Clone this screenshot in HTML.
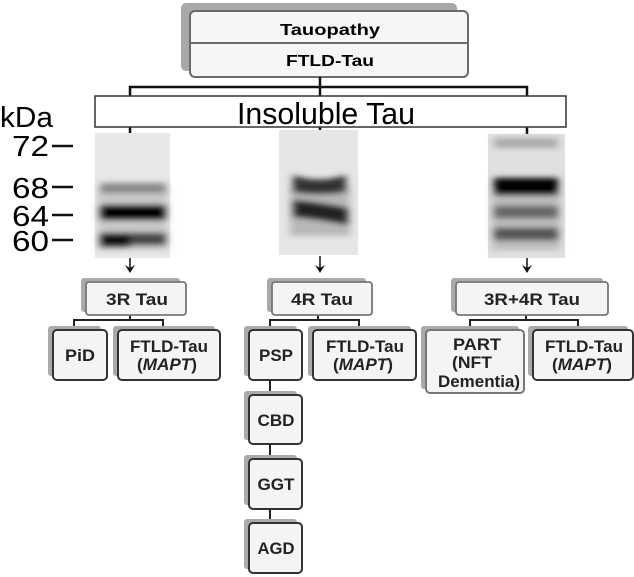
<!DOCTYPE html>
<html><head><meta charset="utf-8"><style>
html,body{margin:0;padding:0;background:#fff;}
svg{display:block;}
text{font-family:"Liberation Sans",Arial,sans-serif;}
</style></head><body>
<svg width="634" height="577" viewBox="0 0 634 577" xmlns="http://www.w3.org/2000/svg">
<defs>
<filter id="b" x="-30%" y="-100%" width="160%" height="300%"><feGaussianBlur stdDeviation="4 3"/></filter>
</defs>
<rect x="181" y="3" width="276" height="68" rx="5" fill="#a8a8a8"/>
<rect x="190" y="11" width="278" height="66" rx="5" fill="#f6f6f6" stroke="#6a6a6a" stroke-width="2"/>
<line x1="190" y1="43" x2="468" y2="43" stroke="#6a6a6a" stroke-width="2"/>
<text x="330" y="35" font-size="16" font-weight="bold" text-anchor="middle" textLength="100" lengthAdjust="spacingAndGlyphs">Tauopathy</text>
<text x="330" y="66" font-size="16" font-weight="bold" text-anchor="middle" textLength="88" lengthAdjust="spacingAndGlyphs">FTLD-Tau</text>
<g stroke="#111" stroke-width="2.5" fill="none">
<line x1="320" y1="77" x2="320" y2="96"/>
<polyline points="130,96 130,87 527,87 527,96"/>
<line x1="130" y1="127" x2="130" y2="134"/>
<line x1="320" y1="127" x2="320" y2="131"/>
<line x1="527" y1="127" x2="527" y2="134"/>
</g>
<rect x="95" y="96" width="471" height="31" fill="#fff" stroke="#333" stroke-width="1.5"/>
<text x="326" y="124" font-size="31" text-anchor="middle" textLength="178" lengthAdjust="spacingAndGlyphs">Insoluble Tau</text>
<text x="0" y="127" font-size="29" textLength="53" lengthAdjust="spacingAndGlyphs">kDa</text>
<g font-size="29">
<text x="12" y="156" textLength="37" lengthAdjust="spacingAndGlyphs">72</text>
<text x="12" y="198" textLength="37" lengthAdjust="spacingAndGlyphs">68</text>
<text x="12" y="226" textLength="37" lengthAdjust="spacingAndGlyphs">64</text>
<text x="12" y="251" textLength="37" lengthAdjust="spacingAndGlyphs">60</text>
</g>
<g stroke="#111" stroke-width="2.5">
<line x1="52" y1="146" x2="73" y2="146"/><line x1="52" y1="187" x2="73" y2="187"/>
<line x1="52" y1="215" x2="73" y2="215"/><line x1="52" y1="240" x2="73" y2="240"/>
</g>
<rect x="95" y="133" width="75" height="125" fill="#e8e8e8"/>
<g filter="url(#b)">
<rect x="98" y="190" width="70" height="60" fill="#aaa" opacity=".5"/>
<rect x="100" y="183" width="66" height="10" fill="#888"/>
<rect x="100" y="205" width="66" height="15" fill="#000"/>
<rect x="100" y="233" width="66" height="12" fill="#444"/>
<rect x="100" y="234" width="30" height="13" fill="#111"/>
</g>
<rect x="279" y="130" width="79" height="125" fill="#e6e6e6"/>
<g filter="url(#b)">
<rect x="290" y="186" width="60" height="50" fill="#999" opacity=".6"/>
<path d="M293 175 Q318 184 346 175 L346 192 Q318 196 293 192Z" fill="#333"/>
<path d="M293 200 Q318 202 348 208 L348 225 Q318 219 293 217Z" fill="#222"/>
</g>
<rect x="488" y="134" width="77" height="124" fill="#e0e0e0"/>
<g filter="url(#b)">
<rect x="492" y="190" width="68" height="60" fill="#999" opacity=".5"/>
<rect x="494" y="138" width="64" height="10" fill="#aaa"/>
<rect x="494" y="178" width="64" height="17" fill="#000"/>
<rect x="494" y="206" width="64" height="12" fill="#666"/>
<rect x="494" y="228" width="64" height="12" fill="#555"/>
</g>
<g fill="#111">
<line x1="130" y1="258" x2="130" y2="268" stroke="#111" stroke-width="1.5"/>
<path d="M125 265 L130 273 L135 265 L130 268Z"/>
<line x1="320" y1="256" x2="320" y2="268" stroke="#111" stroke-width="1.5"/>
<path d="M315 265 L320 273 L325 265 L320 268Z"/>
<line x1="527" y1="258" x2="527" y2="268" stroke="#111" stroke-width="1.5"/>
<path d="M522 265 L527 273 L532 265 L527 268Z"/>
</g>
<g stroke="#222" stroke-width="2" fill="none">
<polyline points="74,326 74,320 163,320 163,326"/><line x1="130" y1="314" x2="130" y2="320"/>
<polyline points="270,326 270,320 359,320 359,326"/><line x1="318" y1="314" x2="318" y2="320"/>
<polyline points="470,326 470,320 578,320 578,326"/><line x1="526" y1="314" x2="526" y2="320"/>
<line x1="270" y1="380" x2="270" y2="523"/>
</g>
<g font-size="17" font-weight="bold" text-anchor="middle" fill="#222">
<rect x="81" y="278" width="99" height="34" rx="3" fill="#aaa"/>
<rect x="86" y="282" width="100" height="33" rx="3" fill="#f4f4f4" stroke="#777" stroke-width="1.8"/>
<text x="137" y="305" textLength="62" lengthAdjust="spacingAndGlyphs">3R Tau</text>
<rect x="267" y="278" width="99" height="34" rx="3" fill="#aaa"/>
<rect x="272" y="282" width="100" height="33" rx="3" fill="#f4f4f4" stroke="#777" stroke-width="1.8"/>
<text x="322" y="305" textLength="62" lengthAdjust="spacingAndGlyphs">4R Tau</text>
<rect x="451" y="278" width="152" height="34" rx="3" fill="#aaa"/>
<rect x="456" y="282" width="152" height="33" rx="3" fill="#f4f4f4" stroke="#777" stroke-width="1.8"/>
<text x="532" y="305" textLength="96" lengthAdjust="spacingAndGlyphs">3R+4R Tau</text>
<rect x="48" y="326" width="53" height="50" rx="3" fill="#aaa"/>
<rect x="53" y="330" width="54" height="50" rx="4" fill="#f4f4f4" stroke="#333" stroke-width="2"/>
<text x="80" y="361" textLength="30" lengthAdjust="spacingAndGlyphs">PiD</text>
<rect x="113" y="326" width="102" height="50" rx="3" fill="#aaa"/>
<rect x="118" y="330" width="102" height="50" rx="4" fill="#f4f4f4" stroke="#333" stroke-width="2"/>
<text x="169" y="352" textLength="78" lengthAdjust="spacingAndGlyphs">FTLD-Tau</text><text x="167" y="370" textLength="60" lengthAdjust="spacingAndGlyphs">(<tspan font-style="italic">MAPT</tspan>)</text>
<rect x="244" y="326" width="53" height="50" rx="3" fill="#aaa"/>
<rect x="249" y="330" width="53" height="50" rx="4" fill="#f4f4f4" stroke="#333" stroke-width="2"/>
<text x="276" y="361" textLength="34" lengthAdjust="spacingAndGlyphs">PSP</text>
<rect x="308" y="326" width="103" height="50" rx="3" fill="#aaa"/>
<rect x="313" y="330" width="103" height="50" rx="4" fill="#f4f4f4" stroke="#333" stroke-width="2"/>
<text x="365" y="352" textLength="78" lengthAdjust="spacingAndGlyphs">FTLD-Tau</text><text x="363" y="370" textLength="60" lengthAdjust="spacingAndGlyphs">(<tspan font-style="italic">MAPT</tspan>)</text>
<rect x="421" y="326" width="98" height="63" rx="3" fill="#aaa"/>
<rect x="426" y="330" width="98" height="63" rx="4" fill="#f4f4f4" stroke="#777" stroke-width="2"/>
<text x="477" y="350" textLength="48" lengthAdjust="spacingAndGlyphs">PART</text><text x="472" y="368" textLength="40" lengthAdjust="spacingAndGlyphs">(NFT</text><text x="479" y="387" textLength="82" lengthAdjust="spacingAndGlyphs">Dementia)</text>
<rect x="528" y="326" width="100" height="50" rx="3" fill="#aaa"/>
<rect x="533" y="330" width="100" height="50" rx="4" fill="#f4f4f4" stroke="#333" stroke-width="2"/>
<text x="584" y="352" textLength="78" lengthAdjust="spacingAndGlyphs">FTLD-Tau</text><text x="582" y="370" textLength="60" lengthAdjust="spacingAndGlyphs">(<tspan font-style="italic">MAPT</tspan>)</text>
<rect x="244" y="391" width="53" height="49" rx="3" fill="#aaa"/>
<rect x="249" y="395" width="53" height="49" rx="4" fill="#f4f4f4" stroke="#333" stroke-width="2"/>
<text x="276" y="426" textLength="37" lengthAdjust="spacingAndGlyphs">CBD</text>
<rect x="244" y="455" width="53" height="50" rx="3" fill="#aaa"/>
<rect x="249" y="459" width="53" height="50" rx="4" fill="#f4f4f4" stroke="#333" stroke-width="2"/>
<text x="276" y="490" textLength="37" lengthAdjust="spacingAndGlyphs">GGT</text>
<rect x="244" y="519" width="53" height="50" rx="3" fill="#aaa"/>
<rect x="249" y="523" width="53" height="50" rx="4" fill="#f4f4f4" stroke="#333" stroke-width="2"/>
<text x="276" y="554" textLength="37" lengthAdjust="spacingAndGlyphs">AGD</text>
</g>
</svg>
</body></html>
